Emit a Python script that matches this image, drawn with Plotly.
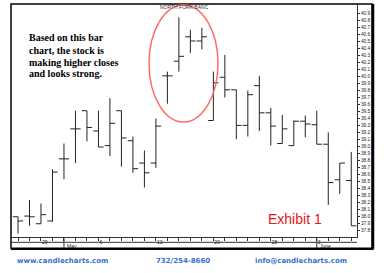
import plotly.graph_objects as go

dates = ["Apr 25", "Apr 26", "Apr 29", "Apr 30", "May 1", "May 2", "May 3",
         "May 6", "May 7", "May 8", "May 9", "May 10", "May 13", "May 14",
         "May 15", "May 16", "May 17", "May 20", "May 21", "May 22", "May 23",
         "May 24", "May 28", "May 29", "May 30", "May 31", "Jun 3", "Jun 4",
         "Jun 5", "Jun 6"]
opens = [37.99, 38.00, 37.89, 37.93, 38.82, 39.25, 39.51, 39.22, 39.01, 39.51,
         39.08, 38.76, 38.76, 40.01, 40.22, 40.57, 40.51, 39.37, 39.99, 39.81,
         39.30, 39.87, 39.48, 39.04, 39.01, 39.36, 39.31, 39.03, 38.52, 38.51]
highs = [37.99, 38.23, 38.18, 38.67, 39.04, 39.51, 39.51, 39.51, 39.69, 39.51,
         39.14, 38.94, 39.40, 40.07, 40.85, 40.67, 40.70, 40.07, 40.31, 39.81,
         39.80, 40.01, 39.55, 39.45, 39.37, 39.44, 39.51, 39.20, 38.76, 38.92]
lows = [37.75, 37.86, 37.89, 37.92, 38.53, 38.76, 39.07, 38.99, 38.86, 38.71,
        38.62, 38.41, 38.69, 39.61, 40.07, 40.34, 40.39, 39.37, 39.70, 39.10,
        39.14, 39.22, 39.01, 39.04, 39.01, 39.13, 39.03, 38.16, 38.32, 37.86]
closes = [37.93, 37.99, 38.02, 38.63, 38.82, 39.25, 39.27, 38.99, 39.33, 39.12,
          38.68, 38.62, 39.29, 40.01, 40.29, 40.51, 40.57, 39.91, 39.81, 39.30,
          39.74, 39.48, 39.29, 39.25, 39.36, 39.32, 39.03, 38.48, 38.76, 37.86]
day_labels = {"Apr 29": "29", "May 6": "6", "May 13": "13", "May 20": "20",
              "May 28": "28", "Jun 3": "3"}
month_starts = {"May 1": "May", "Jun 3": "June"}
price_ticks = [round(37.8 + 0.1 * k, 1) for k in range(32)]

idx = list(range(len(dates)))
ticktext = [day_labels.get(d, "") for d in dates]

fig = go.Figure()
fig.add_trace(go.Ohlc(
    x=idx, open=opens, high=highs, low=lows, close=closes,
    increasing=dict(line=dict(color="#222222", width=1)),
    decreasing=dict(line=dict(color="#222222", width=1)),
    tickwidth=0.45, showlegend=False, hoverinfo="skip"))

W, H = 384, 273
L, R, T, B = 11, 357, 4, 237
def px(x):
    return (x - L) / (R - L)
def py(y):
    return (B - y) / (B - T)

fig.update_layout(
    width=W, height=H,
    margin=dict(l=L, r=W - R, t=T, b=H - B),
    paper_bgcolor="white", plot_bgcolor="white",
    showlegend=False,
    xaxis=dict(range=[-0.609, 29.50], rangeslider=dict(visible=False),
               tickvals=idx, ticktext=ticktext, ticks="outside", ticklen=3,
               tickcolor="#333", tickwidth=1, ticklabelposition="outside right",
               tickfont=dict(size=5, color="#222", family="Liberation Sans"),
               showline=True, linecolor="#333", linewidth=1,
               showgrid=False, zeroline=False, fixedrange=True),
    yaxis=dict(range=[37.70, 41.04], side="right",
               tickvals=price_ticks, ticktext=["%.1f" % v for v in price_ticks],
               ticks="outside", ticklen=2, tickcolor="#333", tickwidth=1,
               ticklabelstandoff=0,
               tickfont=dict(size=4.8, color="#222", family="Liberation Sans"),
               showline=True, linecolor="#333", linewidth=1,
               showgrid=False, zeroline=False, fixedrange=True),
)

shapes = [
    # outer frame
    dict(type="rect", xref="paper", yref="paper", x0=0, x1=px(372), y0=py(248.3), y1=py(4),
         line=dict(color="black", width=1.5)),
    dict(type="line", xref="paper", yref="paper", x0=px(373), x1=px(373), y0=py(249), y1=py(4),
         line=dict(color="black", width=2.5)),
    dict(type="line", xref="paper", yref="paper", x0=0, x1=px(373.5), y0=py(249), y1=py(249),
         line=dict(color="black", width=2)),
    # separator between day and month rows
    dict(type="line", xref="paper", yref="paper", x0=0, x1=1, y0=py(242.3), y1=py(242.3),
         line=dict(color="#333", width=1)),
    # highlight ellipse
    dict(type="circle", xref="paper", yref="paper", x0=px(149), x1=px(218), y0=py(122), y1=py(5),
         line=dict(color="#ff6a6a", width=1.5)),
]
for d in month_starts:
    i = dates.index(d)
    shapes.append(dict(type="line", xref="x", yref="paper", x0=i, x1=i, y0=py(248.3), y1=0,
                       line=dict(color="#333", width=1)))
fig.update_layout(shapes=shapes)

ann = []
for d, lab in month_starts.items():
    i = dates.index(d)
    ann.append(dict(x=i, xref="x", y=py(245.5), yref="paper", text=lab, showarrow=False,
                    xanchor="left", yanchor="middle", xshift=1,
                    font=dict(size=5, color="#222", family="Liberation Sans")))
ann.append(dict(x=px(184), xref="paper", y=py(7.5), yref="paper", text="NORTH FORK BANC",
                showarrow=False, xanchor="center", yanchor="middle",
                font=dict(size=5, color="#333", family="Liberation Sans")))
lines = ["Based on this bar", "chart, the stock is", "making higher closes", "and looks strong."]
ys = [37.5, 50, 62, 74]
for t, yy in zip(lines, ys):
    ann.append(dict(x=px(27), xref="paper", y=py(yy), yref="paper", text="<b>%s</b>" % t,
                    showarrow=False, xanchor="left", yanchor="middle",
                    font=dict(size=10, color="black", family="Liberation Serif")))
ann.append(dict(x=px(294.5), xref="paper", y=py(219), yref="paper", text="Exhibit 1",
                showarrow=False, xanchor="center", yanchor="middle",
                font=dict(size=14, color="#e8141c", family="Liberation Sans")))
footer = [("www.candlecharts.com", 62.5), ("732/254-8660", 182.5), ("info@candlecharts.com", 301)]
for t, xx in footer:
    ann.append(dict(x=px(xx), xref="paper", y=py(261), yref="paper", text="<b>%s</b>" % t,
                    showarrow=False, xanchor="center", yanchor="middle",
                    font=dict(size=7, color="#3a6fd8", family="DejaVu Sans")))
fig.update_layout(annotations=ann)

fig.write_html("out.html")
